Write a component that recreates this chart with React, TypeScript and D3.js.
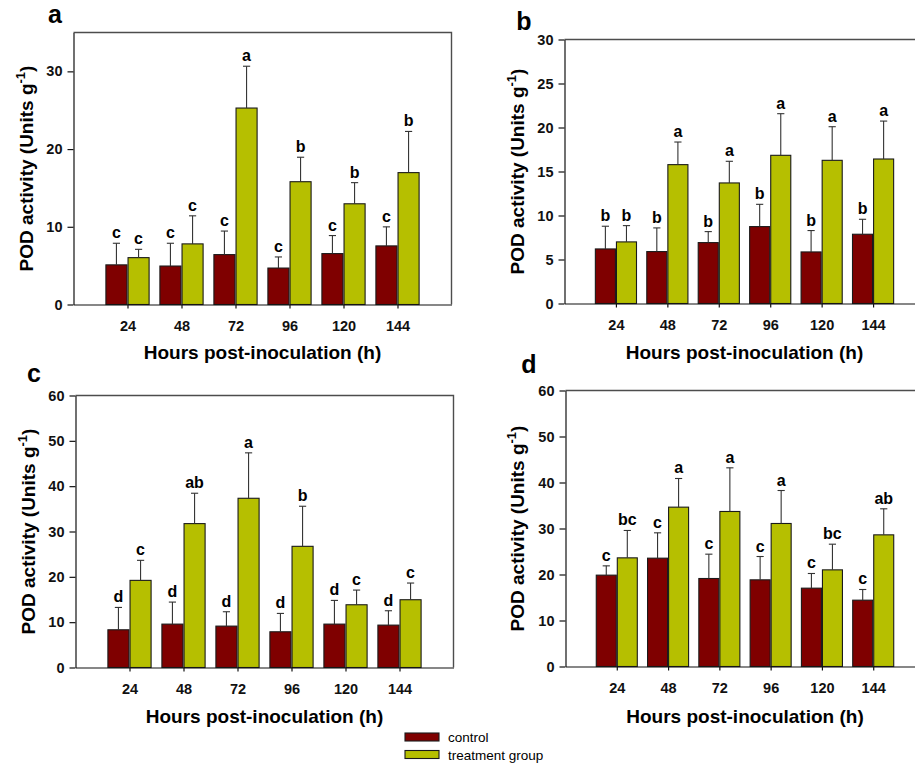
import React, { useRef, useEffect } from 'react';
import * as d3 from 'd3';

// x categories (hours post-inoculation)
const hours = ['24', '48', '72', '96', '120', '144'];
const seriesNames = ['control', 'treatment group'];
const seriesColors = ['#7f0000', '#b6bf00'];

// panel a
const aControl = [5.1, 4.95, 6.42, 4.69, 6.55, 7.54];
const aControlErr = [2.78, 2.93, 3.03, 1.43, 2.32, 2.45];
const aControlSig = ['c', 'c', 'c', 'c', 'c', 'c'];
const aTreat = [6.03, 7.8, 25.28, 15.8, 12.96, 16.97];
const aTreatErr = [1.07, 3.61, 5.38, 3.15, 2.72, 5.3];
const aTreatSig = ['c', 'c', 'a', 'b', 'b', 'b'];

// panel b
const bControl = [6.2, 5.9, 6.92, 8.74, 5.86, 7.87];
const bControlErr = [2.58, 2.69, 1.25, 2.53, 2.43, 1.7];
const bControlSig = ['b', 'b', 'b', 'b', 'b', 'b'];
const bTreat = [7.0, 15.78, 13.7, 16.84, 16.27, 16.42];
const bTreatErr = [1.85, 2.57, 2.46, 4.73, 3.82, 4.31];
const bTreatSig = ['b', 'a', 'a', 'a', 'a', 'a'];

// panel c
const cControl = [8.32, 9.57, 9.13, 7.88, 9.57, 9.35];
const cControlErr = [4.93, 4.86, 3.17, 4.05, 5.23, 3.17];
const cControlSig = ['d', 'd', 'd', 'd', 'd', 'd'];
const cTreat = [19.22, 31.74, 37.33, 26.73, 13.84, 14.95];
const cTreatErr = [4.42, 6.7, 10.02, 8.84, 3.24, 3.68];
const cTreatSig = ['c', 'ab', 'a', 'b', 'c', 'c'];

// panel d
const dControl = [19.86, 23.55, 19.13, 18.84, 17.03, 14.42];
const dControlErr = [2.02, 5.51, 5.29, 5.07, 3.19, 2.32];
const dControlSig = ['c', 'c', 'c', 'c', 'c', 'c'];
const dTreat = [23.62, 34.64, 33.7, 31.09, 21.01, 28.62];
const dTreatErr = [5.95, 6.23, 9.49, 7.17, 5.58, 5.66];
const dTreatSig = ['bc', 'a', 'a', 'a', 'bc', 'ab'];

const FONT = '"Liberation Sans", Arial, Helvetica, sans-serif';

const panels = [
  {
    id: 'a', yMax: 35, yTicks: [0, 10, 20, 30],
    series: [[aControl, aControlErr, aControlSig], [aTreat, aTreatErr, aTreatSig]],
    box: { left: 73.5, right: 451.5, top: 32.5, bottom: 304.5 },
    tag: [55, 23], yTitleX: 33, xTitleY: 359,
  },
  {
    id: 'b', yMax: 30, yTicks: [0, 5, 10, 15, 20, 25, 30],
    series: [[bControl, bControlErr, bControlSig], [bTreat, bTreatErr, bTreatSig]],
    box: { left: 564.5, right: 924.5, top: 39.5, bottom: 303.5 },
    tag: [524, 30], yTitleX: 524, xTitleY: 359,
  },
  {
    id: 'c', yMax: 60, yTicks: [0, 10, 20, 30, 40, 50, 60],
    series: [[cControl, cControlErr, cControlSig], [cTreat, cTreatErr, cTreatSig]],
    box: { left: 75.5, right: 453.5, top: 395.5, bottom: 667.5 },
    tag: [34, 382], yTitleX: 35, xTitleY: 723,
  },
  {
    id: 'd', yMax: 60, yTicks: [0, 10, 20, 30, 40, 50, 60],
    series: [[dControl, dControlErr, dControlSig], [dTreat, dTreatErr, dTreatSig]],
    box: { left: 565.5, right: 924.5, top: 390.5, bottom: 666.5 },
    tag: [529, 373], yTitleX: 524, xTitleY: 723,
  },
];

const App = () => {
  const svgRef = useRef<SVGSVGElement>(null);

  useEffect(() => {
    const svg = d3.select(svgRef.current);
    svg.selectAll('*').remove();

    panels.forEach(p => {
      const { left, right, top, bottom } = p.box;
      const g = svg.append('g');

      const x = d3.scaleLinear().domain([0, hours.length + 1]).range([left, right]);
      const y = d3.scaleLinear().domain([0, p.yMax]).range([bottom, top]);

      // bars, error bars and significance letters
      const offsets = [[-0.4, -0.01], [0.01, 0.4]];
      p.series.forEach(([vals, errs, sig], s) => {
        const [o0, o1] = offsets[s];
        const grp = g.append('g');
        (vals as number[]).forEach((v, i) => {
          const c = i + 1;
          const x0 = x(c + o0), x1 = x(c + o1), xm = (x0 + x1) / 2;
          const hi = v + (errs as number[])[i];
          grp.append('rect')
            .attr('x', x0).attr('y', y(v))
            .attr('width', x1 - x0).attr('height', y(0) - y(v))
            .attr('fill', seriesColors[s]).attr('stroke', '#1a1a1a').attr('stroke-width', 1.1);
          grp.append('line').attr('x1', xm).attr('x2', xm).attr('y1', y(v)).attr('y2', y(hi))
            .attr('stroke', '#333').attr('stroke-width', 1.1);
          grp.append('line').attr('x1', xm - 3.6).attr('x2', xm + 3.6).attr('y1', y(hi)).attr('y2', y(hi))
            .attr('stroke', '#333').attr('stroke-width', 1.1);
          grp.append('text')
            .attr('x', xm).attr('y', y(hi) - 5)
            .attr('text-anchor', 'middle')
            .style('font-family', FONT).style('font-weight', 'bold').style('font-size', '16px')
            .text((sig as string[])[i]);
        });
      });

      // axes
      const yAxis = g.append('g').attr('transform', `translate(${left},0)`)
        .call(d3.axisLeft(y).tickValues(p.yTicks).tickSize(6).tickSizeOuter(0).tickPadding(5));
      const xAxis = g.append('g').attr('transform', `translate(0,${bottom})`)
        .call(d3.axisBottom(x).tickValues(d3.range(1, hours.length + 1))
          .tickFormat(d => hours[(d as number) - 1]).tickSize(4).tickSizeOuter(0).tickPadding(12));
      [yAxis, xAxis].forEach(ax => {
        ax.selectAll('path, line').attr('stroke', '#111').attr('stroke-width', 1.2);
        ax.selectAll('text')
          .style('font-family', FONT).style('font-weight', 'bold').style('font-size', '14.5px')
          .attr('fill', '#111');
      });

      // axis titles
      g.append('text')
        .attr('x', (left + right) / 2).attr('y', p.xTitleY)
        .attr('text-anchor', 'middle')
        .style('font-family', FONT).style('font-weight', 'bold').style('font-size', '19px')
        .text('Hours post-inoculation (h)');

      const yt = g.append('text')
        .attr('transform', `translate(${p.yTitleX},${(top + bottom) / 2}) rotate(-90)`)
        .attr('text-anchor', 'middle')
        .style('font-family', FONT).style('font-weight', 'bold').style('font-size', '19px');
      yt.append('tspan').text('POD activity (Units g');
      yt.append('tspan').attr('dy', -8).style('font-size', '13px').text('-1');
      yt.append('tspan').attr('dy', 8).text(')');

      // panel letter
      g.append('text')
        .attr('x', p.tag[0]).attr('y', p.tag[1])
        .attr('text-anchor', 'middle')
        .style('font-family', FONT).style('font-weight', 'bold').style('font-size', '25px')
        .text(p.id);
    });

    // grey top and right border of every frame, drawn last
    svg.append('g').selectAll('polyline')
      .data(panels)
      .join('polyline')
      .attr('points', d => `${d.box.left},${d.box.top} ${d.box.right},${d.box.top} ${d.box.right},${d.box.bottom}`)
      .attr('fill', 'none')
      .attr('stroke', '#4d4d4d')
      .attr('stroke-width', 1.4);

    // legend
    const legend = svg.append('g').attr('transform', 'translate(405,733)');
    seriesNames.forEach((name, i) => {
      legend.append('rect')
        .attr('x', 0).attr('y', i * 17.5).attr('width', 34).attr('height', 8)
        .attr('fill', seriesColors[i]).attr('stroke', '#1a1a1a').attr('stroke-width', 1.1);
      legend.append('text')
        .attr('x', 43).attr('y', i * 17.5 + 9)
        .style('font-family', FONT).style('font-size', '13.5px')
        .text(name);
    });
  }, []);

  return (
    <svg
      ref={svgRef}
      width={915}
      height={768}
      style={{ position: 'absolute', left: 0, top: 0, background: '#fff' }}
    />
  );
};

export default App;
